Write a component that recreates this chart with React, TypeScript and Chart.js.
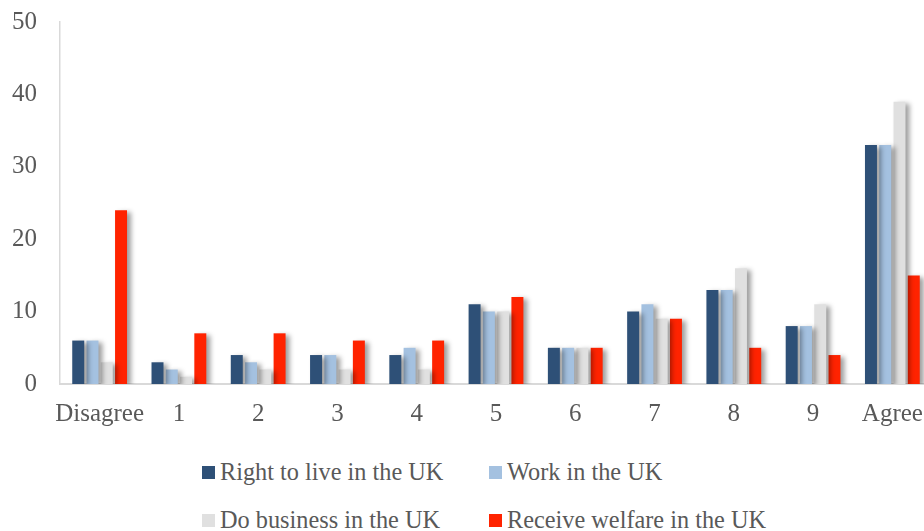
import React, { useEffect, useRef } from "react";
import { Chart, registerables } from "chart.js";

Chart.register(...registerables);

const categories = ["Disagree", "1", "2", "3", "4", "5", "6", "7", "8", "9", "Agree"];
const seriesNames = [
  "Right to live in the UK",
  "Work in the UK",
  "Do business in the UK",
  "Receive welfare in the UK",
];
const rightToLive = [6, 3, 4, 4, 4, 11, 5, 10, 13, 8, 33];
const workIn = [6, 2, 3, 4, 5, 10, 5, 11, 13, 8, 33];
const doBusiness = [3, 1, 2, 2, 2, 10, 5, 9, 16, 11, 39];
const receiveWelfare = [24, 7, 7, 6, 6, 12, 5, 9, 5, 4, 15];
const seriesColors = ["#2E5077", "#A4C1E0", "#E0E0E0", "#FF2300"];
const yTicks = [0, 10, 20, 30, 40, 50];

const FONT = "'Liberation Serif', 'Times New Roman', serif";
const TEXT = "#595959";

const shadowPlugin = {
  id: "barShadow",
  beforeDatasetsDraw(chart: any) {
    const ctx = chart.ctx;
    ctx.save();
    ctx.shadowColor = "rgba(0,0,0,0.38)";
    ctx.shadowBlur = 5;
    ctx.shadowOffsetX = 4;
    ctx.shadowOffsetY = 2;
  },
  afterDatasetsDraw(chart: any) {
    chart.ctx.restore();
  },
};

export default function App() {
  const ref = useRef<HTMLCanvasElement | null>(null);

  useEffect(() => {
    if (!ref.current) return;
    const values = [rightToLive, workIn, doBusiness, receiveWelfare];
    const chart = new Chart(ref.current, {
      type: "bar",
      data: {
        labels: categories,
        datasets: values.map((v, i) => ({
          label: seriesNames[i],
          data: v,
          backgroundColor: seriesColors[i],
          borderWidth: 0,
          categoryPercentage: 0.72,
          barPercentage: 0.84,
        })),
      },
      options: {
        animation: false,
        responsive: false,
        maintainAspectRatio: false,
        layout: { padding: { top: 22, right: 8, left: 0, bottom: 0 } },
        plugins: {
          legend: { display: false },
          tooltip: { enabled: false },
        },
        scales: {
          x: {
            grid: { display: false, drawTicks: false },
            border: { display: true, color: "#D9D9D9", width: 2 },
            ticks: {
              color: TEXT,
              font: { family: FONT, size: 25 },
              padding: 15,
              maxRotation: 0,
              autoSkip: false,
            },
            afterFit(scale: any) {
              scale.height = 60;
              scale.paddingLeft = 0;
              scale.paddingRight = 0;
            },
          },
          y: {
            min: 0,
            max: 50,
            grid: { display: false, drawTicks: false },
            border: { display: true, color: "#D9D9D9", width: 1.5 },
            afterBuildTicks(scale: any) {
              scale.ticks = yTicks.map((v) => ({ value: v }));
            },
            ticks: {
              color: TEXT,
              font: { family: FONT, size: 25 },
              padding: 23,
            },
            afterFit(scale: any) {
              scale.width = 60;
              scale.paddingTop = 0;
              scale.paddingBottom = 0;
            },
          },
        },
      },
      plugins: [shadowPlugin],
    });
    return () => chart.destroy();
  }, []);

  return (
    <div
      style={{
        position: "fixed",
        left: 0,
        top: 0,
        width: 924,
        height: 531,
        overflow: "hidden",
        background: "#fff",
      }}
    >
      <canvas
        ref={ref}
        width={940}
        height={444}
        style={{ position: "absolute", left: 0, top: 0, width: 940, height: 444 }}
      />
      <div
        style={{
          position: "absolute",
          left: 202,
          top: 457,
          display: "grid",
          gridTemplateColumns: "287px auto",
          rowGap: 18,
          fontFamily: FONT,
          fontSize: 24.3,
          color: TEXT,
          lineHeight: "30px",
        }}
      >
        {seriesNames.map((name, i) => (
          <div key={name} style={{ display: "flex", alignItems: "center", whiteSpace: "nowrap" }}>
            <span
              style={{
                display: "inline-block",
                width: 13,
                height: 13,
                background: seriesColors[i],
                marginRight: 5,
              }}
            />
            <span>{name}</span>
          </div>
        ))}
      </div>
    </div>
  );
}
